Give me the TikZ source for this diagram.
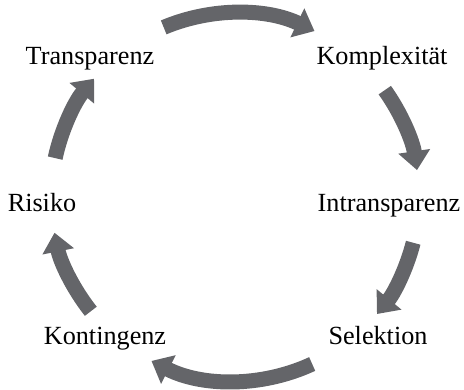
\documentclass[tikz,border=0pt]{standalone}
\usepackage{fontspec}
\setmainfont{Liberation Serif}
\usetikzlibrary{arrows.meta,calc}
\definecolor{arrowgray}{RGB}{100,101,105}
\begin{document}
\begin{tikzpicture}[x=1pt,y=1pt,
  lbl/.style={anchor=base,inner sep=0pt,font=\fontsize{26.2}{30}\selectfont,text=black},
  cyc/.style={draw=arrowgray,line width=15pt,-{Triangle[width=31pt,length=19pt]},arrowgray}]
\useasboundingbox (0,0) rectangle (464,390);
\coordinate (c) at (235,193);
\node[lbl] (transparenz) at (90,325) {Transparenz};
\node[lbl] (komplexitaet) at (382,325) {Komplexität};
\node[lbl] (intransparenz) at (389,178) {Intransparenz};
\node[lbl] (risiko) at (42,178) {Risiko};
\node[lbl] (selektion) at (378,45) {Selektion};
\node[lbl] (kontingenz) at (105,45) {Kontingenz};
\draw[cyc] ($(c)+(112.8:184)$) arc[start angle=112.8,end angle=64.4,radius=184];
\draw[cyc] ($(c)+(35.5:184)$) arc[start angle=35.5,end angle=8.4,radius=184];
\draw[cyc] ($(c)+(-14.4:184)$) arc[start angle=-14.4,end angle=-39.5,radius=184];
\draw[cyc] ($(c)+(-65.2:184)$) arc[start angle=-65.2,end angle=-117,radius=184];
\draw[cyc] ($(c)+(218.4:184)$) arc[start angle=218.4,end angle=191.2,radius=184];
\draw[cyc] ($(c)+(167.8:184)$) arc[start angle=167.8,end angle=140,radius=184];
\end{tikzpicture}
\end{document}
